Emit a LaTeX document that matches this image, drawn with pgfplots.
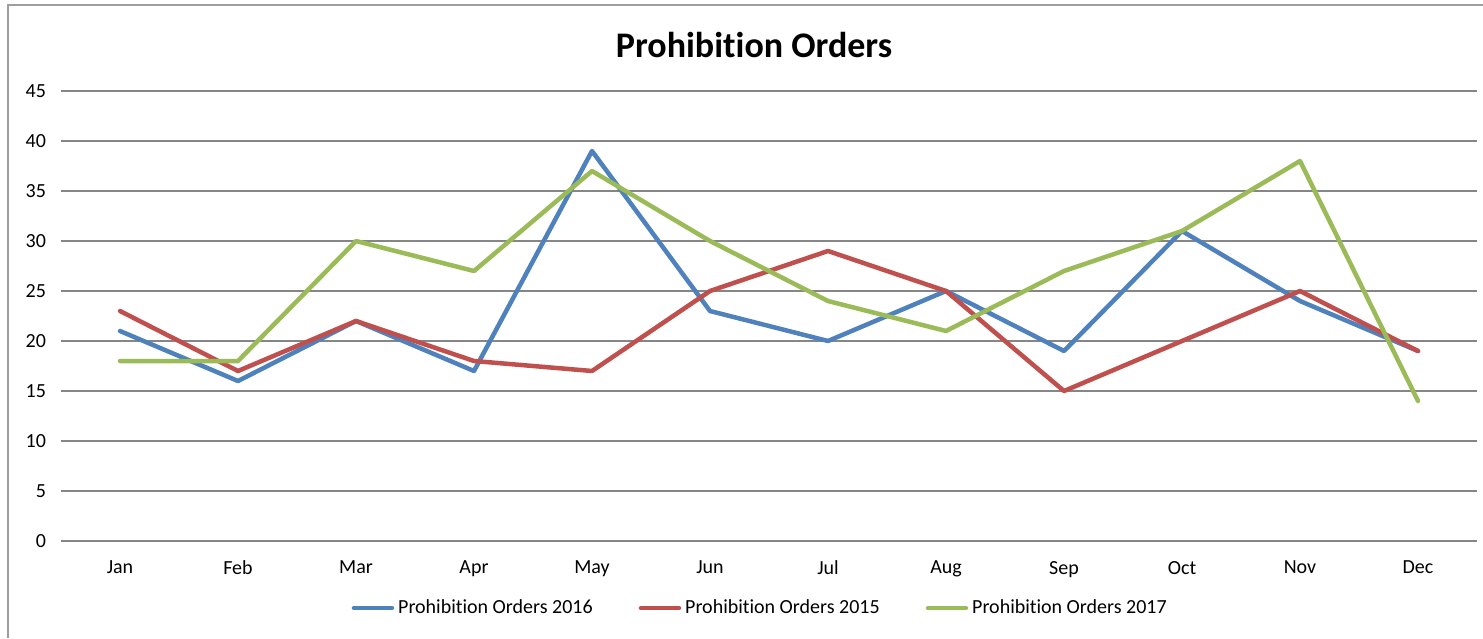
\documentclass[border=0pt]{standalone}
\usepackage{pgfplots}
\pgfplotsset{compat=1.18}
\usepackage{fontspec}
\setmainfont{Carlito}[RawFeature=-liga]
\definecolor{xblue}{HTML}{4F81BD}
\definecolor{xred}{HTML}{C0504D}
\definecolor{xgreen}{HTML}{9BBB59}
\definecolor{xgrid}{HTML}{868686}
\begin{document}
\begin{tikzpicture}
\useasboundingbox (-30.5pt,-48.5pt) rectangle (711pt,270.5pt);
\draw[xgrid!80, line width=0.75pt] (-26.5pt,-48.5pt) -- (-26.5pt,268pt) -- (711pt,268pt);
\node[font=\bfseries\fontsize{18}{20}\selectfont] at (346.5pt,248pt) {Prohibition Orders};
\begin{axis}[
  at={(0pt,0pt)}, anchor=south west,
  scale only axis, width=708pt, height=225pt,
  xmin=-0.5, xmax=11.5, ymin=0, ymax=45,
  xtick={0,...,11},
  xticklabels={Jan,Feb,Mar,Apr,May,Jun,Jul,Aug,Sep,Oct,Nov,Dec},
  ytick={0,5,...,45},
  major tick length=0pt,
  axis line style={draw=none},
  ymajorgrids, grid style={xgrid, line width=0.75pt},
  tick label style={font=\fontsize{10}{12}\selectfont},
  /pgf/number format/assume math mode=true,
  yticklabel style={xshift=-4pt},
  xticklabel style={yshift=-6.5pt},
  legend columns=3,
  legend style={draw=none, fill=none, at={(0.4945,-0.149)}, anchor=center,
    font=\fontsize{10}{12}\selectfont, /tikz/every even column/.append style={column sep=21pt}},
  legend image code/.code={\draw[#1, line width=2.25pt, line cap=round] (0pt,0pt) -- (19pt,0pt);},
  every axis plot/.append style={line width=2.25pt, line join=round, line cap=round, mark=none},
]
\addplot[xblue] coordinates {(0,21) (1,16) (2,22) (3,17) (4,39) (5,23) (6,20) (7,25) (8,19) (9,31) (10,24) (11,19)};
\addlegendentry{Prohibition Orders 2016}
\addplot[xred] coordinates {(0,23) (1,17) (2,22) (3,18) (4,17) (5,25) (6,29) (7,25) (8,15) (9,20) (10,25) (11,19)};
\addlegendentry{Prohibition Orders 2015}
\addplot[xgreen] coordinates {(0,18) (1,18) (2,30) (3,27) (4,37) (5,30) (6,24) (7,21) (8,27) (9,31) (10,38) (11,14)};
\addlegendentry{Prohibition Orders 2017}
\end{axis}
\end{tikzpicture}
\end{document}
